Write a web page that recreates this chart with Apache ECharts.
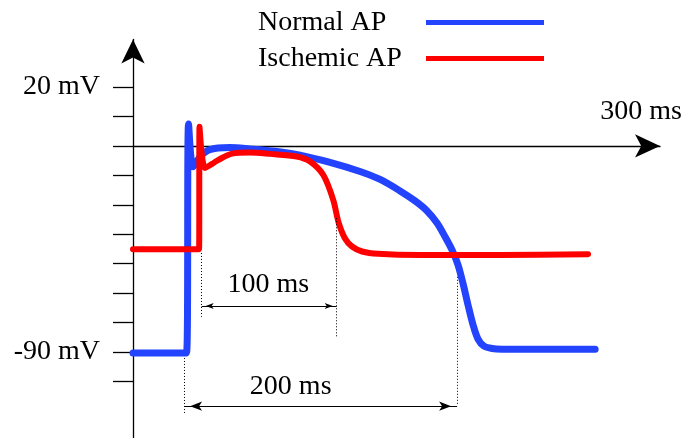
<!DOCTYPE html>
<html>
<head>
<meta charset="utf-8">
<script src="https://cdn.jsdelivr.net/npm/echarts@6/dist/echarts.min.js"></script>
<style>
html, body { margin: 0; padding: 0; background: #fff; }
#chart { width: 685px; height: 438px; }
</style>
</head>
<body>
<div id="chart"></div>
<script>
// time in ms from the vertical axis; potential in tick units (10 per tick, 0 on the time axis)
var normalTime = [0, 39.2, 40.7, 44.0, 49.1, 54.9, 62.3, 71.1, 85.7, 104.0, 122.3, 144.3, 166.3, 181.0, 195.6, 206.6, 215.4, 222.7, 228.6, 233.7, 238.1, 241.8, 245.4, 249.1, 252.7, 257.1, 263.0, 270.3, 338.5];
var normalMv = [-70.4, -70.4, 7.5, -7.1, -3.7, -1.5, -0.7, -0.5, -1.0, -1.8, -3.1, -5.6, -8.7, -11.4, -15.3, -18.7, -22.1, -26.2, -30.9, -35.4, -40.5, -46.9, -54.1, -60.9, -65.7, -68.1, -68.9, -69.1, -69.1];
var ischemicTime = [0, 48.4, 48.7, 52.7, 57.9, 62.3, 72.5, 85.7, 100.4, 119.9, 129.7, 139.4, 146.7, 150.5, 155.3, 160.4, 167.8, 179.5, 210.3, 268.9, 333.3];
var ischemicMv = [-35.1, -35.1, 6.5, -7.5, -6.1, -4.8, -2.6, -2.2, -2.7, -3.6, -5.3, -9.9, -18.4, -25.9, -31.5, -34.2, -35.9, -36.7, -37.1, -37.1, -36.8];

// y axis ticks and the two labelled ones
var yTicks = [20, 10, 0, -10, -20, -30, -40, -50, -60, -70, -80];
var yLabelValues = [20, -70];
var yLabelTexts = ['20 mV', '-90 mV'];

// dotted guide lines: time, top, bottom
var guideTime = [37.4, 50.3, 149.2, 237.4];
var guideTop = [-72.1, -36.4, -24.6, -44.5];
var guideBottom = [-90.8, -58.1, -65.1, -88.0];

// duration arrows
var spanFrom = [50.3, 37.4];
var spanTo = [149.2, 237.4];
var spanLevel = [-54.4, -88.5];
var spanText = ['100 ms', '200 ms'];
var spanTextTime = [99.1, 115.5];
var spanTextLevel = [-47.3, -81.9];
var spanHead = [[4.5, 8], [7, 12]];

var font = 'Liberation Serif';

function zip(a, b) {
    return a.map(function (t, i) { return [t, b[i]]; });
}

var guides = guideTime.map(function (t, i) {
    return [{ coord: [t, guideTop[i]] }, { coord: [t, guideBottom[i]] }];
});
var spans = spanFrom.map(function (t, i) {
    var head = spanHead[i];
    var end = { symbol: 'arrow', symbolSize: head, symbolOffset: [0, head[1] / 2] };
    return [
        Object.assign({ coord: [t, spanLevel[i]], lineStyle: { type: 'solid', width: 1 } }, end),
        Object.assign({ coord: [spanTo[i], spanLevel[i]] }, end)
    ];
});
var spanLabels = spanText.map(function (s, i) {
    return { name: s, coord: [spanTextTime[i], spanTextLevel[i]] };
});

var chart = echarts.init(document.getElementById('chart'));
var option = {
    animation: false,
    grid: { left: 133, right: 25, top: 39.5, height: 400.5, outerBoundsMode: 'none' },
    legend: {
        data: ['Normal AP', 'Ischemic AP'],
        orient: 'vertical',
        left: 258,
        top: 8.5,
        align: 'right',
        padding: 0,
        icon: 'rect',
        itemWidth: 118,
        itemHeight: 5,
        itemGap: 8,
        selectedMode: false,
        itemStyle: { borderWidth: 0 },
        formatter: '{t|{name}}',
        textStyle: {
            color: '#000',
            rich: { t: { width: 163, align: 'left', fontFamily: font, fontSize: 28, lineHeight: 30, color: '#000' } }
        }
    },
    xAxis: {
        type: 'value',
        min: 0,
        max: 386,
        name: '300 ms',
        nameLocation: 'end',
        nameGap: 22,
        nameTextStyle: {
            fontFamily: font, fontSize: 28, color: '#000', align: 'right',
            verticalAlign: 'bottom', lineHeight: 28, padding: [0, 0, 20, 0]
        },
        axisLine: {
            show: true, onZero: true, symbol: ['none', 'arrow'], symbolSize: [17.5, 25],
            lineStyle: { color: '#000', width: 1.3 }
        },
        axisTick: { show: false },
        axisLabel: { show: false },
        splitLine: { show: false }
    },
    yAxis: {
        type: 'value',
        min: -100,
        max: 36.2,
        axisLine: {
            show: true, onZero: true, symbol: ['none', 'arrow'], symbolSize: [17.5, 24],
            lineStyle: { color: '#000', width: 1.3 }
        },
        axisTick: { show: true, customValues: yTicks, length: 20, lineStyle: { color: '#000', width: 1.3 } },
        axisLabel: {
            show: true,
            customValues: yLabelValues,
            margin: 33,
            fontFamily: font,
            fontSize: 28,
            color: '#000',
            formatter: function (v) { return yLabelTexts[yLabelValues.indexOf(v)]; }
        },
        splitLine: { show: false }
    },
    series: [
        {
            name: 'dims',
            type: 'line',
            data: [],
            z: 1,
            markLine: {
                silent: true,
                animation: false,
                symbol: 'none',
                label: { show: false },
                lineStyle: { color: '#000', width: 1, type: [1, 2] },
                data: guides.concat(spans)
            },
            markPoint: {
                silent: true,
                animation: false,
                symbol: 'rect',
                symbolSize: 1,
                itemStyle: { color: 'rgba(0,0,0,0)' },
                label: { show: true, position: 'inside', formatter: '{b}', fontFamily: font, fontSize: 28, color: '#000' },
                data: spanLabels
            }
        },
        {
            name: 'Normal AP',
            type: 'line',
            data: zip(normalTime, normalMv),
            symbol: 'none',
            smooth: 0.3,
            z: 3,
            itemStyle: { color: '#2343ff' },
            lineStyle: { color: '#2343ff', width: 7, cap: 'round', join: 'round' }
        },
        {
            name: 'Ischemic AP',
            type: 'line',
            data: zip(ischemicTime, ischemicMv),
            symbol: 'none',
            smooth: 0.3,
            z: 4,
            itemStyle: { color: '#ff0000' },
            lineStyle: { color: '#ff0000', width: 6, cap: 'round', join: 'round' }
        }
    ]
};
chart.setOption(option);
</script>
</body>
</html>
